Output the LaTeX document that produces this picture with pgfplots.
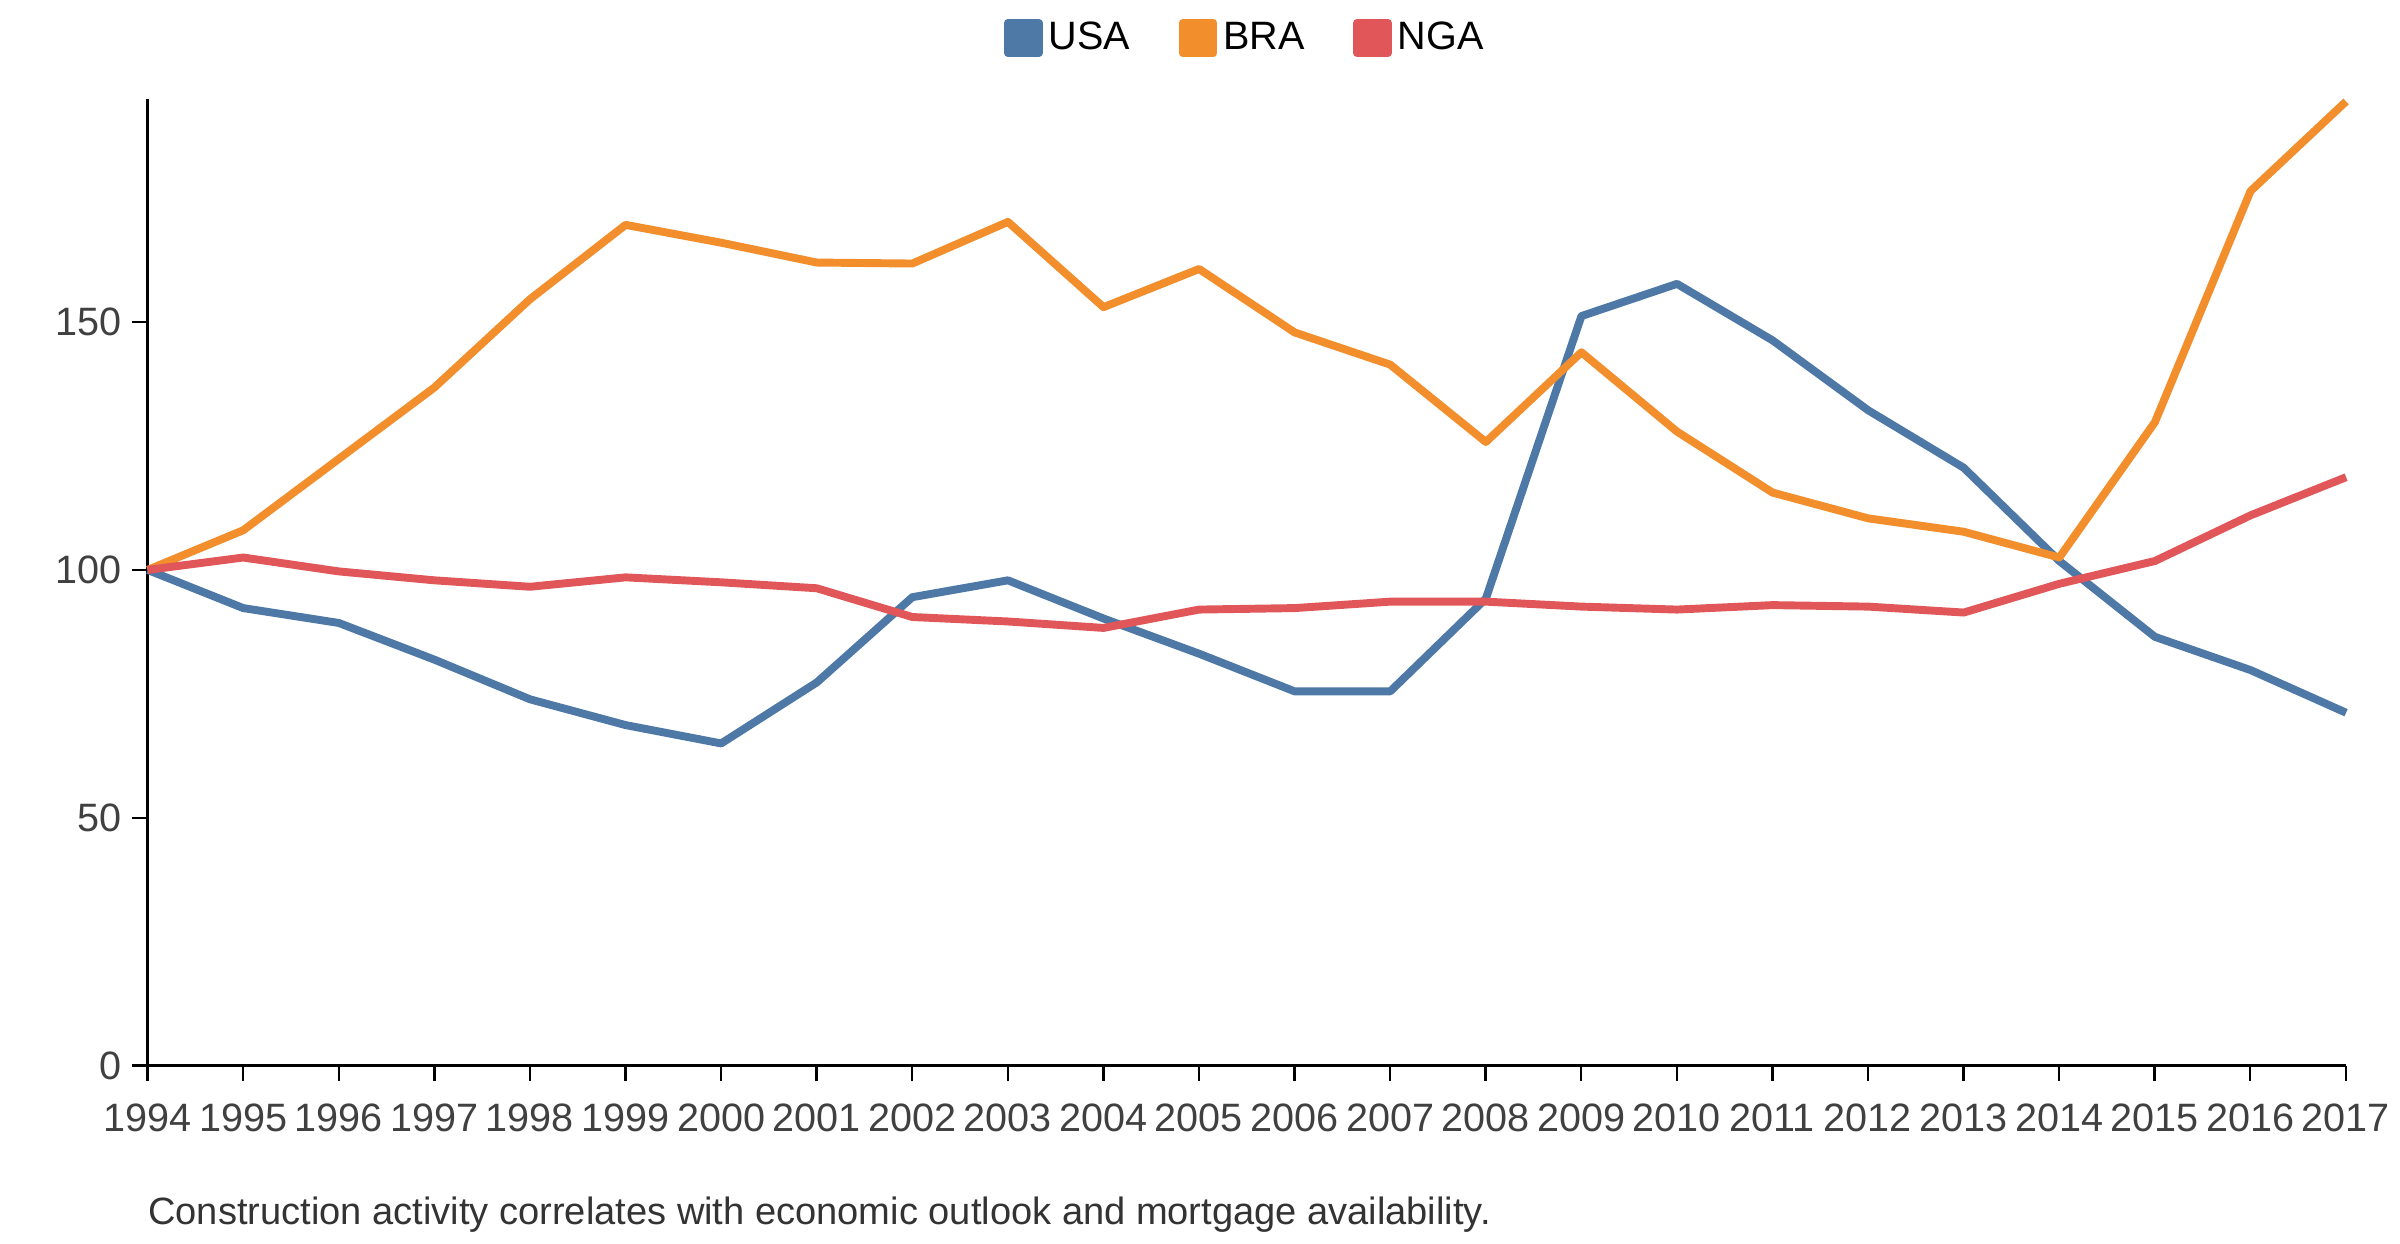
\documentclass[border=0pt]{standalone}
\usepackage{pgfplots}
\pgfplotsset{compat=1.18}
\usepackage{fontspec}
\setmainfont{Liberation Sans}
\definecolor{cusa}{HTML}{4E79A7}
\definecolor{cbra}{HTML}{F28E2B}
\definecolor{cnga}{HTML}{E15759}
\begin{document}
\begin{tikzpicture}
\begin{axis}[
  scale only axis, width=722pt, height=317.5pt, clip=false,
  xmin=1994, xmax=2017, ymin=0, ymax=195,
  axis x line*=bottom, axis y line*=left,
  axis line style={line width=0.8pt, black},
  xtick={1994,...,2017}, ytick={0,50,100,150},
  tick align=outside, major tick length=5pt,
  tick style={line width=0.8pt, black},
  /pgf/number format/1000 sep={},
  /pgf/number format/assume math mode=true,
  ticklabel style={font=\fontsize{13}{15}\selectfont, text=black!75},
  xticklabel style={yshift=-4pt},
  legend style={at={(0.5,1.063)}, anchor=center, draw=none, legend columns=3,
    font=\fontsize{13}{15}\selectfont, /tikz/every even column/.append style={column sep=14pt}},
  legend image code/.code={\fill[#1] (-2pt,-5pt) rectangle (8pt,5pt);},
  every axis plot/.append style={line width=2.6pt, line join=round},
]
\addplot[cusa] coordinates {(1994,100)(1995,92.3)(1996,89.3)(1997,81.9)(1998,73.9)(1999,68.7)(2000,65)(2001,77.3)(2002,94.5)(2003,97.9)(2004,90.2)(2005,83.1)(2006,75.5)(2007,75.5)(2008,94.2)(2009,151.2)(2010,157.7)(2011,146.3)(2012,132.2)(2013,120.6)(2014,101.8)(2015,86.5)(2016,79.8)(2017,71.2)};
\addlegendentry{USA}
\addplot[cbra] coordinates {(1994,100)(1995,108)(1996,122.4)(1997,136.8)(1998,154.6)(1999,169.6)(2000,166)(2001,162)(2002,161.8)(2003,170.2)(2004,153)(2005,160.7)(2006,147.9)(2007,141.4)(2008,125.8)(2009,143.9)(2010,127.9)(2011,115.6)(2012,110.4)(2013,107.7)(2014,102.5)(2015,129.8)(2016,176.4)(2017,194.5)};
\addlegendentry{BRA}
\addplot[cnga] coordinates {(1994,100)(1995,102.5)(1996,99.7)(1997,97.9)(1998,96.6)(1999,98.5)(2000,97.5)(2001,96.3)(2002,90.5)(2003,89.6)(2004,88.3)(2005,92)(2006,92.3)(2007,93.6)(2008,93.6)(2009,92.6)(2010,92)(2011,92.9)(2012,92.6)(2013,91.4)(2014,97.2)(2015,101.8)(2016,111)(2017,118.7)};
\addlegendentry{NGA}
\node[anchor=west, inner sep=0pt, font=\fontsize{12.5}{14}\selectfont, text=black!80, yshift=-49pt] at (rel axis cs:0,0) {Construction activity correlates with economic outlook and mortgage availability.};
\end{axis}
\path (-48.5pt,-58.5pt) rectangle (731.5pt,350pt);
\end{tikzpicture}
\end{document}
